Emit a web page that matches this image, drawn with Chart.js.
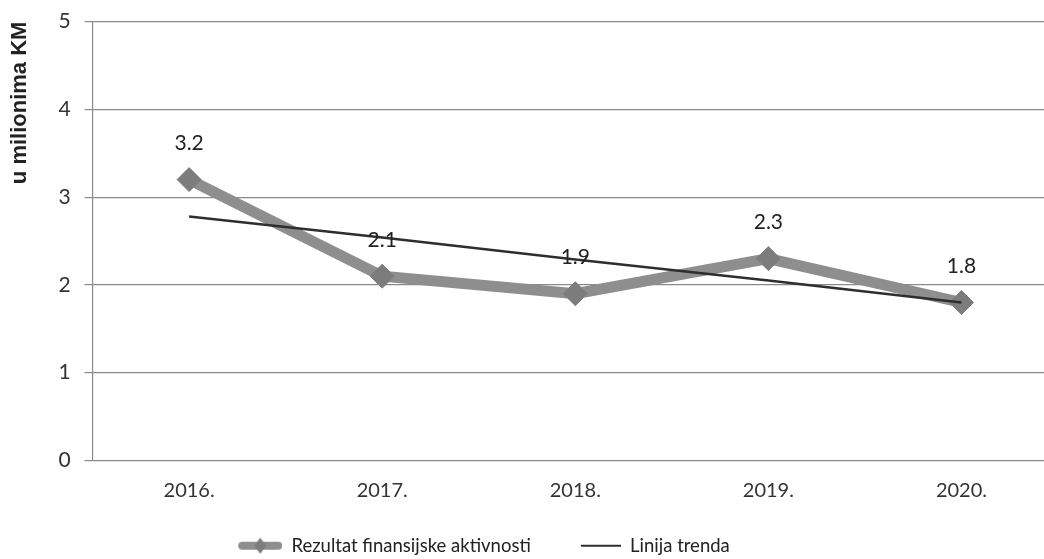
<!DOCTYPE html>
<html>
<head>
<meta charset="utf-8">
<title>Rezultat finansijske aktivnosti</title>
<script src="https://cdn.jsdelivr.net/npm/chart.js@4.4.1/dist/chart.umd.min.js"></script>
<style>
    html, body { margin: 0; padding: 0; background: #fff; overflow: hidden; }
    #wrap { width: 1044px; height: 559px; overflow: hidden; position: relative; }
    #box { position: absolute; left: 0; top: -5px; width: 1071px; height: 564px; }
</style>
</head>
<body>
<div id="wrap"><div id="box"><canvas id="chart"></canvas></div></div>
<script>
// podaci
var years = ['2016.', '2017.', '2018.', '2019.', '2020.'];
var rezultat = [3.2, 2.1, 1.9, 2.3, 1.8];
var trend = [2.78, 2.54, 2.29, 2.05, 1.80];
var yMin = 0;
var yMax = 5;
var yStep = 1;

var lineGray = '#8e8e8e';
var pointGray = '#7c7c7c';
var trendColor = '#2e2e2e';
var font = 'Lato, "Open Sans", sans-serif';

// legend markers as small canvases
function makeMarker(kind) {
    var c = document.createElement('canvas');
    c.width = 80; c.height = 18;
    var g = c.getContext('2d');
    if (kind === 'series') {
        g.strokeStyle = lineGray;
        g.lineWidth = 8;
        g.lineCap = 'round';
        g.beginPath(); g.moveTo(40, 9); g.lineTo(76, 9); g.stroke();
        g.fillStyle = pointGray;
        g.beginPath(); g.moveTo(58, 1); g.lineTo(64, 9); g.lineTo(58, 17); g.lineTo(52, 9); g.closePath(); g.fill();
    } else {
        g.strokeStyle = trendColor;
        g.lineWidth = 2;
        g.beginPath(); g.moveTo(40, 9); g.lineTo(80, 9); g.stroke();
    }
    return c;
}

// vrijednosti iznad tacaka
var valueLabels = {
    id: 'valueLabels',
    afterDatasetsDraw: function (chart) {
        var ctx = chart.ctx;
        var meta = chart.getDatasetMeta(0);
        ctx.save();
        ctx.font = '21px ' + font;
        ctx.fillStyle = '#222';
        ctx.textAlign = 'center';
        ctx.textBaseline = 'middle';
        meta.data.forEach(function (pt, i) {
            ctx.fillText(rezultat[i].toFixed(1), pt.x, pt.y - 36);
        });
        ctx.restore();
    }
};

// legenda malo lijevo i nize
var shiftLegend = {
    id: 'shiftLegend',
    afterLayout: function (chart) {
        var l = chart.legend;
        l.left -= 73; l.right -= 73;
        l.top += 6; l.bottom += 6;
    }
};

var ctx = document.getElementById('chart').getContext('2d');
new Chart(ctx, {
    type: 'line',
    data: {
        labels: years,
        datasets: [
            {
                label: 'Rezultat finansijske aktivnosti',
                data: rezultat,
                borderColor: lineGray,
                borderWidth: 11,
                pointStyle: 'rectRot',
                pointRadius: 12,
                pointBackgroundColor: pointGray,
                pointBorderColor: pointGray,
                pointBorderWidth: 1,
                tension: 0,
                order: 2
            },
            {
                label: 'Linija trenda',
                data: trend,
                borderColor: trendColor,
                borderWidth: 2.5,
                pointRadius: 0,
                tension: 0,
                order: 1
            }
        ]
    },
    options: {
        responsive: true,
        maintainAspectRatio: false,
        animation: false,
        layout: { padding: { top: 3, left: 7, right: 0, bottom: 0 } },
        scales: {
            x: {
                offset: true,
                grid: { display: false, drawTicks: false },
                border: { display: false },
                ticks: { color: '#333', padding: 18, font: { family: font, size: 20 } }
            },
            y: {
                min: yMin,
                max: yMax,
                ticks: { stepSize: yStep, color: '#333', padding: 14, font: { family: font, size: 21 } },
                grid: { color: '#8a8a8a', lineWidth: 1.2, tickLength: 8 },
                border: { color: '#8a8a8a', width: 1.2 },
                title: {
                    display: true,
                    text: 'u milionima KM',
                    align: 'end',
                    color: '#222',
                    font: { family: '"Liberation Sans", Arial, sans-serif', size: 22, weight: 'bold' },
                    padding: { top: 0, bottom: 11 }
                }
            }
        },
        plugins: {
            tooltip: { enabled: false },
            legend: {
                position: 'bottom',
                labels: {
                    usePointStyle: true,
                    pointStyleWidth: 80,
                    padding: 10,
                    color: '#222',
                    font: { family: font, size: 18.5 },
                    generateLabels: function (chart) {
                        return chart.data.datasets.map(function (ds, i) {
                            return {
                                text: ds.label,
                                pointStyle: makeMarker(i === 0 ? 'series' : 'trend'),
                                fontColor: '#222',
                                lineWidth: 0,
                                datasetIndex: i
                            };
                        });
                    }
                }
            }
        }
    },
    plugins: [valueLabels, shiftLegend]
});
</script>
</body>
</html>
